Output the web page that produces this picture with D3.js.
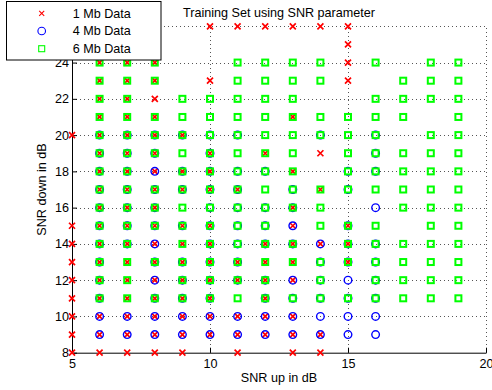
<!DOCTYPE html>
<html>
<head>
<meta charset="utf-8">
<script src="https://cdn.jsdelivr.net/npm/d3@7"></script>
<style>
  html, body { margin: 0; padding: 0; background: #fff; }
  svg { display: block; font-family: "Liberation Sans", Arial, Helvetica, sans-serif; }
</style>
</head>
<body>
<svg id="chart" width="492" height="390"></svg>
<script>
// Axis ticks
const xTicks = [5, 10, 15, 20];
const yTicks = [8, 10, 12, 14, 16, 18, 20, 22, 24, 26];

// Each row: [SNR down (dB), list of SNR up values (dB)]
const data1Mb = [
  [26, [10, 11, 12, 13, 14, 15]],
  [25, [15]],
  [24, [6, 7, 8, 15]],
  [23, [6, 7, 8, 10, 15]],
  [22, [6, 7, 8]],
  [21, [6, 7, 8, 13]],
  [20, [5, 6, 7, 8, 9]],
  [19, [6, 7, 8, 10, 12, 14]],
  [18, [6, 7, 8, 9, 10, 13]],
  [17, [6, 7, 8, 9, 10, 11, 14]],
  [16, [6, 7, 8, 13]],
  [15, [5, 6, 7, 8, 9, 10, 13, 15]],
  [14, [5, 6, 7, 8, 9, 10, 12, 13, 14, 15]],
  [13, [5, 6, 7, 8, 9, 10, 11, 12, 13, 15]],
  [12, [5, 6, 7, 8, 9, 10, 11, 12, 13]],
  [11, [5, 6, 7, 8, 9, 10, 12]],
  [10, [5, 6, 7, 8, 9, 10, 11, 12, 13]],
  [9,  [5, 6, 7, 8, 9, 10, 11, 12, 13, 14]],
  [8,  [5, 6, 7, 8, 9, 11, 13, 14]]
];

const data4Mb = [
  [20, [6, 7, 8, 9, 10, 11, 14, 16]],
  [19, [6, 7, 8, 10, 16]],
  [18, [6, 7, 8, 9, 10, 11, 12, 15, 16]],
  [17, [6, 7, 8, 9, 10, 11, 13, 15]],
  [16, [6, 7, 8, 10, 11, 12, 13, 16]],
  [15, [6, 7, 8, 9, 10, 11, 12, 13, 15]],
  [14, [6, 7, 8, 10, 11, 12, 13, 14, 15, 16]],
  [13, [6, 8, 9, 10, 11, 14, 15, 16]],
  [12, [6, 8, 9, 10, 11, 12, 13, 14, 15, 16]],
  [11, [6, 8, 9, 10, 12, 13, 14, 15, 16]],
  [10, [6, 7, 8, 9, 10, 11, 12, 13, 14, 15, 16]],
  [9,  [6, 7, 8, 9, 10, 11, 12, 13, 14, 15, 16]]
];

const data6Mb = [
  [24, [6, 7, 8, 11, 12, 13, 14, 16, 18, 19]],
  [23, [6, 7, 8, 11, 12, 13, 14, 17, 18, 19]],
  [22, [6, 7, 9, 10, 11, 12, 13, 16, 17, 18, 19]],
  [21, [6, 7, 8, 9, 10, 11, 12, 13, 14, 15, 16, 17, 19]],
  [20, [6, 7, 8, 9, 10, 11, 12, 13, 14, 15, 16, 18, 19]],
  [19, [6, 7, 8, 9, 10, 11, 12, 13, 15, 16, 17, 18, 19]],
  [18, [6, 7, 9, 10, 11, 12, 13, 15, 16, 17, 18, 19]],
  [17, [6, 7, 8, 9, 10, 11, 12, 13, 14, 15, 16, 17, 18, 19]],
  [16, [6, 7, 8, 9, 10, 11, 12, 13, 14, 17, 18, 19]],
  [15, [6, 7, 8, 9, 10, 11, 12, 14, 15, 16, 18, 19]],
  [14, [6, 7, 9, 10, 11, 12, 13, 15, 16, 17, 18, 19]],
  [13, [6, 7, 8, 9, 10, 11, 12, 13, 14, 15, 16, 17, 18, 19]],
  [12, [6, 7, 9, 10, 11, 12, 14, 16, 17, 18, 19]],
  [11, [6, 7, 8, 9, 10, 11, 12, 13, 14, 15, 16, 17, 18, 19]]
];

const legendLabels = ["1 Mb Data", "4 Mb Data", "6 Mb Data"];
const seriesColors = ["#ff0000", "#0000ff", "#00ff00"];

// Flatten [down, ups] rows into point objects
const toPoints = rows => rows.flatMap(([down, ups]) => ups.map(up => ({ up, down })));

const svg = d3.select("#chart");
const margin = { top: 26.3, right: 6, bottom: 37.3, left: 72 };
const W = 492, H = 390;

const x = d3.scaleLinear().domain([5, 20]).range([margin.left, W - margin.right]);
const y = d3.scaleLinear().domain([8, 26]).range([H - margin.bottom, margin.top]);

// Dotted grid
const grid = svg.append("g").attr("stroke", "#555").attr("stroke-width", 1)
  .attr("stroke-dasharray", "1 3").attr("shape-rendering", "crispEdges");
grid.selectAll("line.gx").data(xTicks.filter(t => t > 5)).join("line")
  .attr("x1", d => Math.round(x(d)) + 0.5).attr("x2", d => Math.round(x(d)) + 0.5)
  .attr("y1", y(8)).attr("y2", y(26));
grid.selectAll("line.gy").data(yTicks.filter(t => t > 8)).join("line")
  .attr("y1", d => Math.round(y(d)) + 0.5).attr("y2", d => Math.round(y(d)) + 0.5)
  .attr("x1", x(5)).attr("x2", x(20));

// Axes (ticks pointing inward, no box)
const fontSize = 12.6;
const gx = svg.append("g").attr("transform", `translate(0,${y(8)})`)
  .call(d3.axisBottom(x).tickValues(xTicks).tickSizeInner(-5).tickSizeOuter(0).tickPadding(6).tickFormat(d3.format("d")));
const gy = svg.append("g").attr("transform", `translate(${x(5)},0)`)
  .call(d3.axisLeft(y).tickValues(yTicks).tickSizeInner(-5).tickSizeOuter(0).tickPadding(3).tickFormat(d3.format("d")));
[gx, gy].forEach(g => {
  g.select(".domain").attr("stroke", "#000").attr("stroke-width", 1);
  g.selectAll(".tick line").attr("stroke", "#000");
  g.selectAll(".tick text").attr("fill", "#000").attr("font-size", fontSize).attr("font-family", null);
});
gx.selectAll(".tick text").attr("dy", "0.75em");

// Markers
const plot = svg.append("g");
const xPath = (h) => `M${-h},${-h}L${h},${h}M${-h},${h}L${h},${-h}`;

plot.append("g").selectAll("path").data(toPoints(data1Mb)).join("path")
  .attr("transform", d => `translate(${x(d.up)},${y(d.down)})`)
  .attr("d", xPath(3))
  .attr("fill", "none").attr("stroke", seriesColors[0]).attr("stroke-width", 1.7);

plot.append("g").selectAll("circle").data(toPoints(data4Mb)).join("circle")
  .attr("cx", d => x(d.up)).attr("cy", d => y(d.down)).attr("r", 3.8)
  .attr("fill", "none").attr("stroke", seriesColors[1]).attr("stroke-width", 1.4);

plot.append("g").selectAll("rect").data(toPoints(data6Mb)).join("rect")
  .attr("x", d => x(d.up) - 3).attr("y", d => y(d.down) - 3)
  .attr("width", 6).attr("height", 6)
  .attr("fill", "none").attr("stroke", seriesColors[2]).attr("stroke-width", 2);

// Title and axis labels
svg.append("text").attr("x", (x(5) + x(20)) / 2).attr("y", 17)
  .attr("text-anchor", "middle").attr("font-size", fontSize)
  .text("Training Set using SNR parameter");
svg.append("text").attr("x", (x(5) + x(20)) / 2).attr("y", 382)
  .attr("text-anchor", "middle").attr("font-size", fontSize)
  .text("SNR up in dB");
svg.append("text")
  .attr("transform", `translate(46,${(y(8) + y(26)) / 2}) rotate(-90)`)
  .attr("text-anchor", "middle").attr("font-size", fontSize)
  .text("SNR down in dB");

// Legend
const legend = svg.append("g");
legend.append("rect").attr("x", 6.5).attr("y", 1.5).attr("width", 154.5).attr("height", 58.5)
  .attr("fill", "#fff").attr("stroke", "#000").attr("stroke-width", 1);
const rowY = d3.scalePoint().domain(legendLabels).range([13.3, 48.7]);
const mx = 41.7;
legend.append("path").attr("transform", `translate(${mx},${rowY(legendLabels[0])})`)
  .attr("d", xPath(2.5)).attr("stroke", seriesColors[0]).attr("stroke-width", 1.1).attr("fill", "none");
legend.append("circle").attr("cx", mx).attr("cy", rowY(legendLabels[1])).attr("r", 3.8)
  .attr("stroke", seriesColors[1]).attr("stroke-width", 1.1).attr("fill", "none");
legend.append("rect").attr("x", mx - 3).attr("y", rowY(legendLabels[2]) - 3).attr("width", 6).attr("height", 6)
  .attr("stroke", seriesColors[2]).attr("stroke-width", 1.1).attr("fill", "none");
legend.selectAll("text.lbl").data(legendLabels).join("text")
  .attr("x", 72.7).attr("y", d => rowY(d)).attr("dy", "0.35em")
  .attr("font-size", fontSize).text(d => d);
</script>
</body>
</html>
